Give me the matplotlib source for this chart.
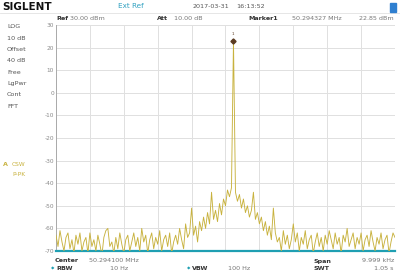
import numpy as np
import matplotlib
matplotlib.use("Agg")
import matplotlib.pyplot as plt

# spectrum trace (dBm), 171 points across the span
trace_dbm = [
    -63, -68, -61, -66, -70, -64, -62, -69, -65, -71,
    -63, -67, -62, -70, -66, -64, -71, -62, -68, -65,
    -70, -63, -67, -72, -64, -61, -60, -68, -66, -71,
    -64, -69, -62, -67, -71, -65, -63, -70, -66, -62,
    -68, -64, -70, -60, -66, -63, -71, -65, -62, -69,
    -64, -67, -61, -70, -65, -63, -68, -62, -71, -66,
    -63, -67, -60, -65, -69, -58, -64, -62, -51, -63,
    -59, -66, -57, -61, -55, -60, -53, -58, -44, -56,
    -52, -57, -49, -54, -47, -50, -43, -46, -42, 22.85,
    -44, -48, -45, -51, -47, -53, -50, -55, -52, -44,
    -56, -53, -58, -55, -61, -57, -63, -59, -65, -51,
    -62, -66, -64, -70, -61, -67, -63, -69, -65, -58,
    -66, -62, -70, -64, -67, -61, -69, -65, -63, -71,
    -66, -62, -68, -64, -70, -63, -67, -61, -65, -69,
    -62, -67, -64, -71, -63, -66, -60, -68, -65, -62,
    -69, -64, -67, -62, -70, -65, -63, -68, -61, -66,
    -70, -64, -67, -62, -69, -65, -63, -71, -66, -62,
    -64,
]
center_hz = 50.294100e6
span_hz = 9999.0
ref_dbm = 30
db_div = 10
marker_hz = 50.294327e6
marker_dbm = 22.85

left_labels = ["LOG", "10 dB", "Offset", "40 dB", "Free", "LgPwr", "Cont", "FFT"]

W, H = 400, 271
TRACE = "#c8b23e"
TEAL = "#1f9fb2"
GRAY = "#8a8a8a"


def px(x, y):
    return x / W, 1 - y / H


fig = plt.figure(figsize=(4, 2.71), dpi=100, facecolor="white")
ax = fig.add_axes([56 / W, 1 - 251 / H, (395 - 56) / W, (251 - 25) / H])

freqs = np.linspace(center_hz - span_hz / 2, center_hz + span_hz / 2, len(trace_dbm))
ax.plot(freqs, trace_dbm, color=TRACE, lw=0.65, zorder=3)
ax.plot([marker_hz], [marker_dbm], marker="D", ms=2.6, color="#5b3b22", zorder=4)
ax.text(marker_hz, marker_dbm + 2.5, "1", fontsize=3, color="#5b3b22", ha="center", va="bottom")

ax.set_xlim(freqs[0], freqs[-1])
ax.set_ylim(ref_dbm - 10 * db_div, ref_dbm)
ax.set_xticks(np.linspace(freqs[0], freqs[-1], 11))
ax.set_yticks(np.arange(ref_dbm - 10 * db_div, ref_dbm + 1, db_div))
ax.set_xticklabels([])
ax.set_yticklabels([str(v) for v in ax.get_yticks().astype(int)], fontsize=4.2, color=GRAY)
ax.tick_params(length=0, pad=1.5)
ax.grid(True, color="#e0e0e0", lw=0.7)
for s in ["top", "right"]:
    ax.spines[s].set_visible(False)
ax.spines["left"].set_color("#aaaaaa")
ax.spines["left"].set_linewidth(0.7)
ax.spines["bottom"].set_color(TEAL)
ax.spines["bottom"].set_linewidth(1.6)
ax.set_facecolor("white")

# header
fig.text(*px(2, 7), "SIGLENT", fontsize=7.5, fontweight="bold", color="#111111", va="center")
fig.text(*px(118, 6), "Ext Ref", fontsize=5.2, color="#2fa0c0", va="center")
fig.text(*px(193, 6), "2017-03-31", fontsize=4.6, color="#555555", va="center")
fig.text(*px(236, 6), "16:13:52", fontsize=4.6, color="#555555", va="center")
fig.patches.append(plt.Rectangle(px(390, 12), 6 / W, 9 / H, transform=fig.transFigure,
                                 color="#2f7fd0", zorder=5))
fig.lines.append(plt.Line2D([0, 1], [1 - 12.5 / H] * 2, transform=fig.transFigure,
                            color="#e2e2e2", lw=0.6))

fig.text(*px(56, 19), "Ref", fontsize=4.6, fontweight="bold", color="#333333", va="center")
fig.text(*px(70, 19), "30.00 dBm", fontsize=4.6, color="#777777", va="center")
fig.text(*px(157, 19), "Att", fontsize=4.6, fontweight="bold", color="#333333", va="center")
fig.text(*px(174, 19), "10.00 dB", fontsize=4.6, color="#777777", va="center")
fig.text(*px(248, 19), "Marker1", fontsize=4.6, fontweight="bold", color="#333333", va="center")
fig.text(*px(292, 19), "50.294327 MHz", fontsize=4.6, color="#777777", va="center")
fig.text(*px(394, 19), "22.85 dBm", fontsize=4.6, color="#777777", va="center", ha="right")

# left side panel
for i, lab in enumerate(left_labels):
    fig.text(*px(7, 27 + i * 11.3), lab, fontsize=4.6, color="#555555", va="center")
fig.text(*px(3, 165), "A", fontsize=4.6, fontweight="bold", color=TRACE, va="center")
fig.text(*px(12, 165), "CSW", fontsize=4.2, color=TRACE, va="center")
fig.text(*px(12, 174), "P-PK", fontsize=4.2, color=TRACE, va="center")

# footer
fig.text(*px(55, 261), "Center", fontsize=4.6, fontweight="bold", color="#333333", va="center")
fig.text(*px(89, 261), "50.294100 MHz", fontsize=4.6, color="#777777", va="center")
fig.text(*px(51, 268), "\u25c6", fontsize=3.2, color=TEAL, va="center")
fig.text(*px(56, 268), "RBW", fontsize=4.6, fontweight="bold", color="#333333", va="center")
fig.text(*px(128, 268), "10 Hz", fontsize=4.6, color="#777777", va="center", ha="right")
fig.text(*px(187, 268), "\u25c6", fontsize=3.2, color=TEAL, va="center")
fig.text(*px(192, 268), "VBW", fontsize=4.6, fontweight="bold", color="#333333", va="center")
fig.text(*px(250, 268), "100 Hz", fontsize=4.6, color="#777777", va="center", ha="right")
fig.text(*px(313, 261), "Span", fontsize=4.6, fontweight="bold", color="#333333", va="center")
fig.text(*px(394, 261), "9.999 kHz", fontsize=4.6, color="#777777", va="center", ha="right")
fig.text(*px(313, 268), "SWT", fontsize=4.6, fontweight="bold", color="#333333", va="center")
fig.text(*px(394, 268), "1.05 s", fontsize=4.6, color="#777777", va="center", ha="right")

fig.savefig("out.png", dpi=100, facecolor="white")
